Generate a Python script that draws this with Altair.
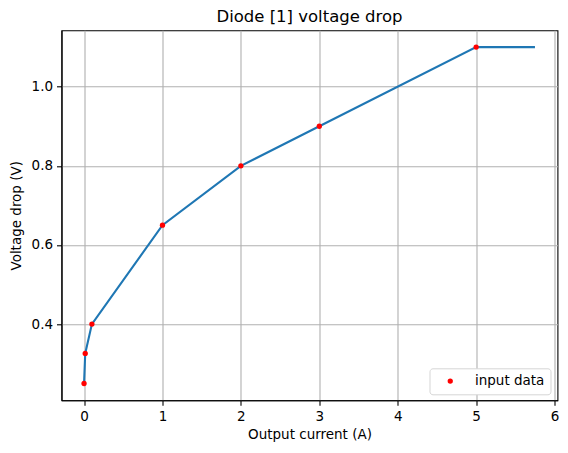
import altair as alt
import pandas as pd

# Input data points (red dots)
current = [0.0, 0.015, 0.1, 1.0, 2.0, 3.0, 5.0]
voltage = [0.25, 0.326, 0.4, 0.65, 0.8, 0.9, 1.1]

# Line: input data plus the flat extension to the max current
line_current = current + [5.75]
line_voltage = voltage + [1.1]

x_ticks = [0, 1, 2, 3, 4, 5, 6]
y_ticks = [0.4, 0.6, 0.8, 1.0]

pts = pd.DataFrame({"I": current, "V": voltage, "series": ["input data"] * len(current)})
ln = pd.DataFrame({"I": line_current, "V": line_voltage})

FONT = "DejaVu Sans"

xscale = alt.Scale(domain=[-0.2875, 6.0375], nice=False, zero=False)
yscale = alt.Scale(domain=[0.2075, 1.1425], nice=False, zero=False)

xaxis = alt.Axis(values=x_ticks, format="d", title="Output current (A)", grid=True)
yaxis = alt.Axis(values=y_ticks, format=".1f", title="Voltage drop (V)", grid=True)

line = alt.Chart(ln).mark_line(color="#1f77b4", strokeWidth=2.1).encode(
    x=alt.X("I:Q", scale=xscale, axis=xaxis),
    y=alt.Y("V:Q", scale=yscale, axis=yaxis),
)

dots = alt.Chart(pts).mark_circle(size=28, opacity=1).encode(
    x=alt.X("I:Q", scale=xscale),
    y=alt.Y("V:Q", scale=yscale),
    color=alt.Color(
        "series:N",
        scale=alt.Scale(domain=["input data"], range=["#ff0000"]),
        legend=alt.Legend(
            title=None,
            orient="none",
            legendX=368,
            legendY=338,
            padding=6,
            strokeColor="#d5d5d5",
            fillColor="white",
            cornerRadius=3,
            labelFontSize=13.5,
            labelFont=FONT,
            labelColor="black",
            symbolSize=28,
            symbolType="circle",
            symbolOffset=8,
            labelOffset=18,
            rowPadding=0,
        ),
    ),
)

chart = (
    alt.layer(line, dots)
    .properties(
        width=496,
        height=370,
        autosize=alt.AutoSizeParams(type="none"),
        padding={"left": 53.5, "top": 22.3, "right": 2, "bottom": 45},
        title=alt.TitleParams(
            "Diode [1] voltage drop", font=FONT, fontSize=16.5, fontWeight="normal",
            color="black", offset=5,
        ),
    )
    .configure_view(stroke="black", strokeWidth=1.1)
    .configure_axis(
        labelFont=FONT,
        titleFont=FONT,
        labelFontSize=13.5,
        titleFontSize=13.5,
        titleFontWeight="normal",
        labelColor="black",
        titleColor="black",
        domainColor="black",
        domainWidth=1.1,
        tickColor="black",
        tickWidth=1.1,
        tickSize=5,
        labelPadding=4,
        gridColor="#b0b0b0",
        gridWidth=1.1,
    )
    .configure_axisX(titlePadding=5)
    .configure_axisY(titlePadding=8)
)

chart.save("out.html", embed_options={"renderer": "svg", "actions": False})
